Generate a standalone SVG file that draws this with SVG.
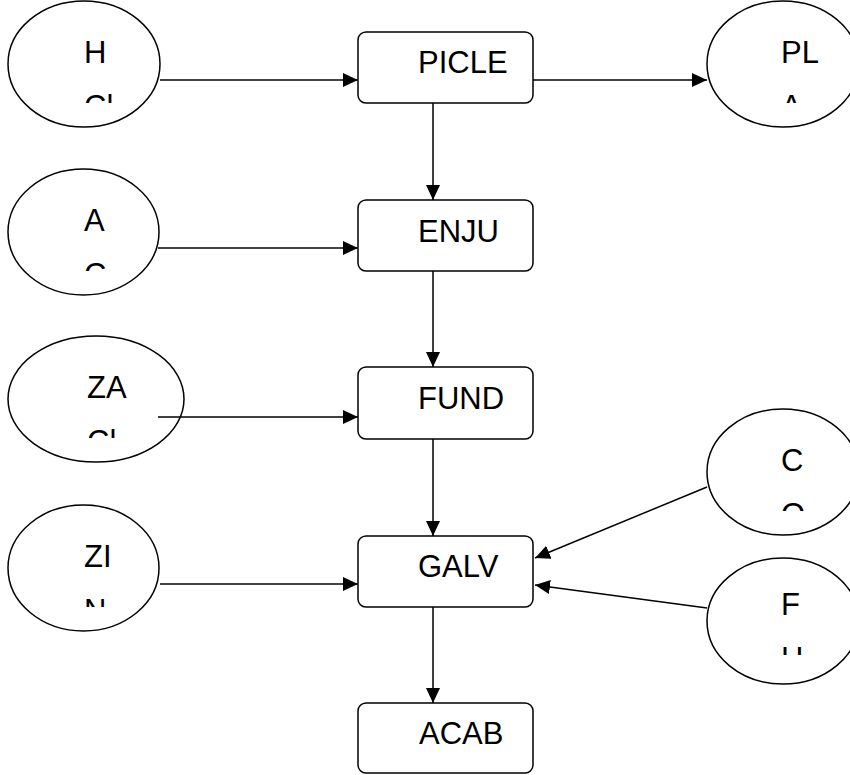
<svg xmlns="http://www.w3.org/2000/svg" width="850" height="775" viewBox="0 0 850 775">
<style>
.box{fill:#fff;stroke:#000;stroke-width:1.5}
.ell{fill:#fff;stroke:#000;stroke-width:1.5}
.lbl{font-family:"Liberation Sans",Arial,sans-serif;font-size:31px;fill:#000}
.con{fill:none;stroke:#000;stroke-width:1.5;marker-end:url(#arr)}
</style>
<defs>
<marker id="arr" viewBox="0 0 15 14" refX="15" refY="7" markerWidth="15" markerHeight="14" markerUnits="userSpaceOnUse" orient="auto">
<path d="M0,0 L15,7 L0,14 Z" fill="#000"/>
</marker>
<clipPath id="cH" clipPathUnits="userSpaceOnUse"><rect x="0" y="0" width="850" height="103"/></clipPath>
<clipPath id="cA" clipPathUnits="userSpaceOnUse"><rect x="0" y="150" width="850" height="121"/></clipPath>
<clipPath id="cZA" clipPathUnits="userSpaceOnUse"><rect x="0" y="320" width="850" height="118"/></clipPath>
<clipPath id="cZI" clipPathUnits="userSpaceOnUse"><rect x="0" y="490" width="850" height="117"/></clipPath>
<clipPath id="cPL" clipPathUnits="userSpaceOnUse"><rect x="0" y="0" width="850" height="103"/></clipPath>
<clipPath id="cC" clipPathUnits="userSpaceOnUse"><rect x="0" y="400" width="850" height="111"/></clipPath>
<clipPath id="cF" clipPathUnits="userSpaceOnUse"><rect x="0" y="540" width="850" height="115"/></clipPath>
</defs>

<g id="picle"><rect class="box" x="358" y="32" width="175" height="71" rx="8"/><text class="lbl" x="418" y="73">PICLE</text></g>
<g id="enju"><rect class="box" x="358" y="200" width="175" height="71" rx="8"/><text class="lbl" x="418" y="242">ENJU</text></g>
<g id="fund"><rect class="box" x="358" y="367" width="175" height="72" rx="8"/><text class="lbl" x="418" y="409">FUND</text></g>
<g id="galv"><rect class="box" x="358" y="536" width="175" height="71" rx="8"/><text class="lbl" x="418" y="577">GALV</text></g>
<g id="acab"><rect class="box" x="358" y="703" width="175" height="70" rx="8"/><text class="lbl" x="419" y="744">ACAB</text></g>

<g id="hcl"><ellipse class="ell" cx="84" cy="64" rx="76" ry="63"/><g clip-path="url(#cH)"><text class="lbl" x="84" y="63">H</text><text class="lbl" x="84" y="117">Cl</text></g></g>
<g id="ac"><ellipse class="ell" cx="83.5" cy="232" rx="75.5" ry="63"/><g clip-path="url(#cA)"><text class="lbl" x="84" y="231">A</text><text class="lbl" x="84" y="285">C</text></g></g>
<g id="zacl"><ellipse class="ell" cx="96" cy="399" rx="88" ry="63"/><g clip-path="url(#cZA)"><text class="lbl" x="87" y="398">ZA</text><text class="lbl" x="87" y="452">Cl</text></g></g>
<g id="zin"><ellipse class="ell" cx="83.5" cy="568" rx="75.5" ry="63"/><g clip-path="url(#cZI)"><text class="lbl" x="84" y="567">ZI</text><text class="lbl" x="84" y="621">N</text></g></g>
<g id="pla"><ellipse class="ell" cx="783" cy="64" rx="76" ry="63"/><g clip-path="url(#cPL)"><text class="lbl" x="781" y="63">PL</text><text class="lbl" x="781" y="117">A</text></g></g>
<g id="co"><ellipse class="ell" cx="783" cy="472" rx="76" ry="63"/><g clip-path="url(#cC)"><text class="lbl" x="781" y="471">C</text><text class="lbl" x="781" y="525">O</text></g></g>
<g id="fh"><ellipse class="ell" cx="783" cy="621" rx="76" ry="63"/><g clip-path="url(#cF)"><text class="lbl" x="781" y="615">F</text><text class="lbl" x="781" y="669">H</text></g></g>

<g id="connectors">
<line class="con" x1="160" y1="80" x2="358" y2="80"/>
<line class="con" x1="533" y1="80" x2="707" y2="80"/>
<line class="con" x1="158" y1="248" x2="358" y2="248"/>
<line class="con" x1="158" y1="417" x2="358" y2="417"/>
<line class="con" x1="160" y1="584" x2="358" y2="584"/>
<line class="con" x1="707" y1="487" x2="535" y2="558"/>
<line class="con" x1="707" y1="608" x2="535" y2="585"/>
<line class="con" x1="433" y1="103" x2="433" y2="200"/>
<line class="con" x1="433" y1="271" x2="433" y2="367"/>
<line class="con" x1="433" y1="439" x2="433" y2="536"/>
<line class="con" x1="433" y1="607" x2="433" y2="703"/>
</g>
</svg>
